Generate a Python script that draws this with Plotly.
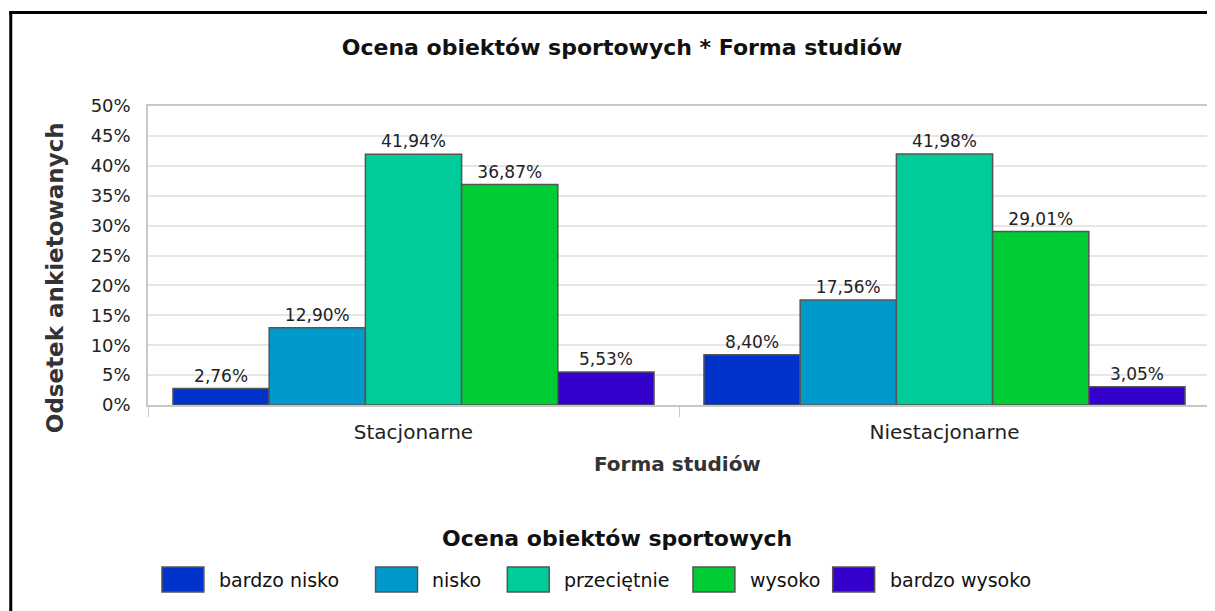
import plotly.graph_objects as go

# dane
forma = ["Stacjonarne", "Niestacjonarne"]
oceny = ["bardzo nisko", "nisko", "przeciętnie", "wysoko", "bardzo wysoko"]
bardzo_nisko = [2.76, 8.40]
nisko = [12.90, 17.56]
przecietnie = [41.94, 41.98]
wysoko = [36.87, 29.01]
bardzo_wysoko = [5.53, 3.05]
kolory = ["#0033cc", "#0099cc", "#00cc99", "#00cc33", "#3300cc"]

serie = [bardzo_nisko, nisko, przecietnie, wysoko, bardzo_wysoko]

fig = go.Figure()
for nazwa, wartosci, kolor in zip(oceny, serie, kolory):
    fig.add_trace(
        go.Bar(
            x=forma,
            y=wartosci,
            name=nazwa,
            marker=dict(color=kolor, line=dict(color="#555555", width=1.5)),
            text=[f"{v:.2f}%".replace(".", ",") for v in wartosci],
            textposition="outside",
            textfont=dict(family="DejaVu Sans", size=17, color="#222222"),
            cliponaxis=False,
            showlegend=False,
        )
    )

# strona ma 8px marginesu, wiec figura jest o 8px mniejsza
W, H = 1207, 603
L, R, T, B = 140, 3, 98, 206
pw = W - L - R
ph = H - T - B

def px(x):
    return (x - L) / pw

def py(y):
    return (H - B - y) / ph

# legenda rysowana recznie (duze prostokaty jak w oryginale)
leg_x = [154, 368, 500, 686, 826]
leg_y0, leg_y1 = 559, 584
box_w = 42

shapes = [
    dict(type="line", xref="paper", yref="paper",
         x0=px(2.5), x1=px(2.5), y0=py(604), y1=py(3),
         line=dict(color="black", width=3)),
    dict(type="line", xref="paper", yref="paper",
         x0=px(1), x1=px(1208), y0=py(4.5), y1=py(4.5),
         line=dict(color="black", width=3)),
]
annotations = [
    dict(xref="paper", yref="paper", x=px(47), y=py(270),
         text="<b>Odsetek ankietowanych</b>", textangle=-90,
         showarrow=False, xanchor="center", yanchor="middle",
         font=dict(family="DejaVu Sans", size=23, color="#333333")),
    dict(xref="paper", yref="paper", x=px(670), y=py(456),
         text="<b>Forma studiów</b>",
         showarrow=False, xanchor="center", yanchor="middle",
         font=dict(family="DejaVu Sans", size=20, color="#333333")),
    dict(xref="paper", yref="paper", x=px(610), y=py(530),
         text="<b>Ocena obiektów sportowych</b>",
         showarrow=False, xanchor="center", yanchor="middle",
         font=dict(family="DejaVu Sans", size=22, color="#111111")),
]
for nazwa, kolor, x0 in zip(oceny, kolory, leg_x):
    shapes.append(dict(type="rect", xref="paper", yref="paper",
                       x0=px(x0), x1=px(x0 + box_w), y0=py(leg_y1), y1=py(leg_y0),
                       fillcolor=kolor, line=dict(color="#555555", width=1.5)))
    annotations.append(dict(xref="paper", yref="paper",
                            x=px(x0 + box_w + 13), y=py((leg_y0 + leg_y1) / 2),
                            text=nazwa, showarrow=False,
                            xanchor="left", yanchor="middle",
                            font=dict(family="DejaVu Sans", size=19, color="#111111")))

fig.update_layout(
    width=W,
    height=H,
    margin=dict(l=L, r=R, t=T, b=B),
    paper_bgcolor="white",
    plot_bgcolor="white",
    barmode="group",
    bargap=0.094,
    bargroupgap=0,
    showlegend=False,
    title=dict(
        text="<b>Ocena obiektów sportowych * Forma studiów</b>",
        x=614 / W,
        xanchor="center",
        y=1 - 39 / H,
        yanchor="middle",
        font=dict(family="DejaVu Sans", size=22, color="#111111"),
    ),
    xaxis=dict(
        showline=True,
        linecolor="#c8c8c8",
        linewidth=1.5,
        mirror=True,
        ticks="outside",
        ticklen=10,
        tickcolor="#c8c8c8",
        tickson="boundaries",
        ticklabelstandoff=8,
        tickfont=dict(family="DejaVu Sans", size=20, color="#222222"),
    ),
    yaxis=dict(
        range=[0, 50],
        dtick=5,
        ticksuffix="%",
        showline=True,
        linecolor="#c8c8c8",
        linewidth=1.5,
        mirror=True,
        gridcolor="#e6e6e6",
        gridwidth=1.5,
        zeroline=False,
        ticklabelstandoff=12,
        tickfont=dict(family="DejaVu Sans", size=18, color="#222222"),
    ),
    shapes=shapes,
    annotations=annotations,
)

fig.write_html("out.html")
